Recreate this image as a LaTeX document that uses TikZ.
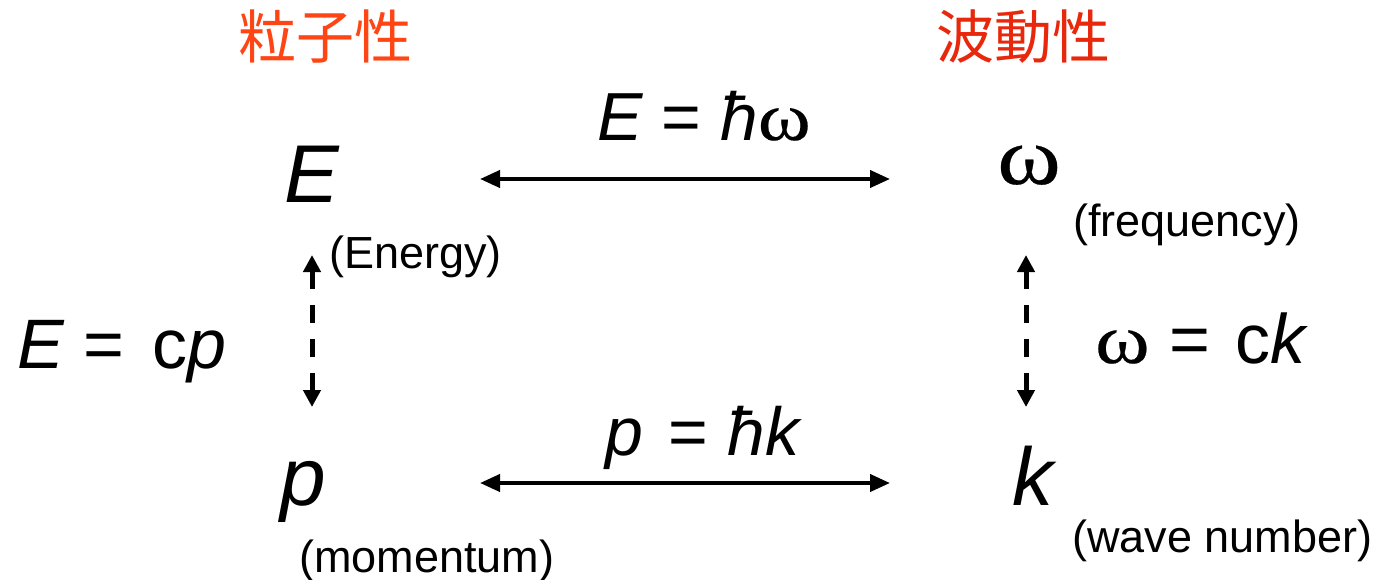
\documentclass[tikz,border=0pt]{standalone}
\usepackage{fontspec}
\usepackage{graphicx}
\setmainfont{Liberation Sans}
\newfontfamily\cjk{Noto Sans CJK JP}
\newfontfamily\serifw[FakeBold=0.3]{Liberation Serif}
\newcommand{\omg}{\scalebox{1.18}[1]{\serifw ω}}
\usetikzlibrary{arrows.meta}
\definecolor{partred}{HTML}{FF4513}
\definecolor{wavered}{HTML}{E8280C}
\begin{document}
\begin{tikzpicture}[x=1pt,y=-1pt,
  lbl/.style={inner sep=0pt, anchor=base west},
  big/.style={lbl, font=\fontsize{82}{90}\selectfont},
  eqn/.style={lbl, font=\fontsize{68}{76}\selectfont},
  side/.style={lbl, font=\fontsize{70}{78}\selectfont},
  sub/.style={lbl, font=\fontsize{45}{50}\selectfont},
  title/.style={inner sep=0pt, anchor=base, font=\cjk\fontsize{58}{64}\selectfont},
  biarrow/.style={line width=4pt, {Triangle[length=20pt,width=17pt]}-{Triangle[length=20pt,width=17pt]}},
  dasharrow/.style={line width=5pt, dash pattern=on 18pt off 16pt, {Triangle[length=17pt,width=17pt]}-{Triangle[length=17pt,width=17pt]}}
]
\useasboundingbox (0,0) rectangle (1379,579);

% titles
\node[title, text=partred] (ryu) at (325,58) {粒子性};
\node[title, text=wavered] (ha) at (1023,58) {波動性};

% main quantities
\node[big] (E) at (284,202) {\itshape E};
\node[sub] (Elab) at (329,268) {(Energy)};
\node[big] (omega) at (997,184) {\omg};
\node[sub] (wlab) at (1073,236) {(frequency)};
\node[big] (p) at (280,505) {\itshape p};
\node[sub] (plab) at (299,572) {(momentum)};
\node[big] (k) at (1012,505) {\itshape k};
\node[sub] (klab) at (1072,552) {(wave number)};

% relations
\node[eqn] (eq1) at (597,140) {{\itshape E} = {\itshape ħ}\omg};
\node[eqn] (eq2) at (605,455) {{\itshape p}\hspace{7pt} = {\itshape ħk}};
\node[side] (eq3) at (17,368) {{\itshape E} =\hspace{28pt}c{\itshape p}};
\node[side] (eq4) at (1095,363) {\omg\ =\hspace{26pt}c{\itshape k}};

% arrow end points
\coordinate (Ea) at (480,179);
\coordinate (wa) at (890,179);
\coordinate (pa) at (480,483);
\coordinate (ka) at (890,483);
\coordinate (Ed) at (312,255);
\coordinate (pd) at (312,407);
\coordinate (wd) at (1026,255);
\coordinate (kd) at (1026,407);

\draw[biarrow] (Ea) -- (wa);
\draw[biarrow] (pa) -- (ka);
\draw[dasharrow] (Ed) -- (pd);
\draw[dasharrow] (wd) -- (kd);
\end{tikzpicture}
\end{document}
